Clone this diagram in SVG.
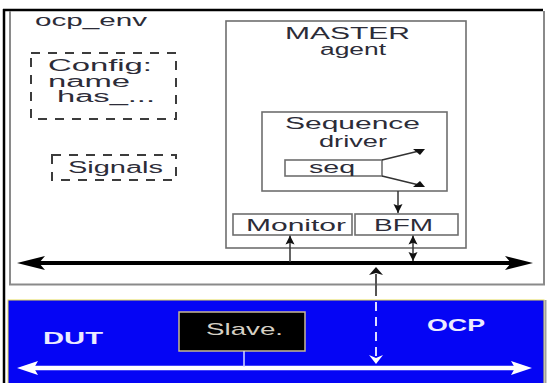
<svg xmlns="http://www.w3.org/2000/svg" width="557" height="383" viewBox="0 0 557 383">
  <defs>
    <style>
      .t { font-family: "Liberation Sans", Arial, sans-serif; font-size: 16px; fill: #2c2c38; }
      .w { font-family: "Liberation Sans", Arial, sans-serif; font-size: 17px; fill: #ecebff; font-weight: bold; }
      .box { fill: #ffffff; stroke: #6e6e6e; stroke-width: 1.6; }
      .dash { fill: none; stroke: #3c3c3c; stroke-width: 2; stroke-dasharray: 9 8; }
      .thin { stroke: #333; stroke-width: 1.5; fill: none; }
    </style>
    <marker id="ah" viewBox="0 0 10 10" refX="10" refY="5" markerWidth="9" markerHeight="10" markerUnits="userSpaceOnUse" orient="auto-start-reverse">
      <path d="M0,0 L10,5 L0,10 L2,5 z" fill="#111"/>
    </marker>
  </defs>

  <rect x="0" y="0" width="557" height="383" fill="#ffffff"/>

  <!-- page frame -->
  <g id="frame">
    <line x1="4" y1="9" x2="4" y2="383" stroke="#000" stroke-width="2.5"/>
    <line x1="3" y1="10" x2="543" y2="10" stroke="#000" stroke-width="2.5"/>
  </g>

  <!-- ocp_env container -->
  <g id="ocp_env">
    <path d="M10,11 V284.5 H544 V11" fill="none" stroke="#8a8a8a" stroke-width="2"/>
    <text class="t" x="35" y="26" textLength="112" lengthAdjust="spacingAndGlyphs">ocp_env</text>
  </g>

  <g id="config">
    <rect class="dash" x="31" y="53" width="145" height="66"/>
    <text class="t" x="48" y="71" textLength="104" lengthAdjust="spacingAndGlyphs">Config:</text>
    <text class="t" x="48" y="87" textLength="82" lengthAdjust="spacingAndGlyphs">name</text>
    <text class="t" x="57" y="102" textLength="98" lengthAdjust="spacingAndGlyphs">has_...</text>
  </g>

  <g id="signals">
    <rect class="dash" x="52" y="155" width="124" height="25"/>
    <text class="t" x="68" y="173" textLength="95" lengthAdjust="spacingAndGlyphs">Signals</text>
  </g>

  <g id="master_agent">
    <rect class="box" x="226" y="21" width="240" height="227"/>
    <text class="t" x="285" y="39" textLength="125" lengthAdjust="spacingAndGlyphs">MASTER</text>
    <text class="t" x="320" y="55" textLength="66" lengthAdjust="spacingAndGlyphs">agent</text>
  </g>

  <g id="sequence_driver">
    <rect class="box" x="262" y="112" width="185" height="79"/>
    <text class="t" x="285" y="129" textLength="135" lengthAdjust="spacingAndGlyphs">Sequence</text>
    <text class="t" x="319" y="147" textLength="68" lengthAdjust="spacingAndGlyphs">driver</text>
  </g>

  <g id="seq">
    <rect class="box" x="285" y="160" width="97" height="16"/>
    <text class="t" x="309" y="173" textLength="46" lengthAdjust="spacingAndGlyphs">seq</text>
  </g>

  <g id="monitor">
    <rect class="box" x="233" y="214" width="119" height="21"/>
    <text class="t" x="246" y="231" textLength="100" lengthAdjust="spacingAndGlyphs">Monitor</text>
  </g>

  <g id="bfm">
    <rect class="box" x="355" y="214" width="103" height="21"/>
    <text class="t" x="374" y="231" textLength="59" lengthAdjust="spacingAndGlyphs">BFM</text>
  </g>

  <!-- DUT area -->
  <g id="dut">
    <rect x="8" y="300" width="536" height="85" fill="#0505f5" stroke="#e6dc5a" stroke-width="1"/>
    <line x1="545.5" y1="300" x2="545.5" y2="383" stroke="#a0a0a0" stroke-width="2"/>
    <text class="w" x="43" y="344" textLength="60" lengthAdjust="spacingAndGlyphs">DUT</text>
    <text class="w" x="427" y="331" textLength="58" lengthAdjust="spacingAndGlyphs">OCP</text>
  </g>

  <g id="slave">
    <rect x="179" y="312" width="126" height="39" fill="#000" stroke="#c8b894" stroke-width="1.5"/>
    <text x="206" y="335" textLength="77" lengthAdjust="spacingAndGlyphs" style="font-family:'Liberation Sans',Arial,sans-serif;font-size:17px;fill:#d6d0c4">Slave.</text>
  </g>

  <!-- connectors -->
  <g id="connectors">
    <!-- black bus -->
    <line x1="36" y1="263" x2="514" y2="263" stroke="#000" stroke-width="4"/>
    <polygon points="17,263 45,256 39,263 45,270" fill="#000"/>
    <polygon points="533,263 505,256 511,263 505,270" fill="#000"/>

    <!-- white bus -->
    <line x1="30" y1="368" x2="520" y2="368" stroke="#ffffff" stroke-width="4.5"/>
    <polygon points="17,368 38,361 34,368 38,375" fill="#ffffff"/>
    <polygon points="532,368 511,361 515,368 511,375" fill="#ffffff"/>

    <!-- seq branches -->
    <line class="thin" x1="382" y1="160" x2="419" y2="151"/>
    <polygon points="413,149 425,149 420,155" fill="#111"/>
    <line class="thin" x1="382" y1="176" x2="419" y2="185"/>
    <polygon points="413,187 425,187 420,181" fill="#111"/>

    <!-- driver to BFM -->
    <line class="thin" x1="398" y1="191" x2="398" y2="213" marker-end="url(#ah)"/>

    <!-- bus to monitor -->
    <line class="thin" x1="290" y1="262" x2="290" y2="235.5" marker-end="url(#ah)"/>

    <!-- BFM <-> bus -->
    <line class="thin" x1="413" y1="235.5" x2="413" y2="261" marker-start="url(#ah)" marker-end="url(#ah)"/>

    <!-- DUT to bus (dashed) -->
    <line x1="376" y1="274" x2="376" y2="296" stroke="#555" stroke-width="2"/>
    <polygon points="376,267 383,275 376,273 369,275" fill="#111"/>
    <line x1="376" y1="302" x2="376" y2="357" stroke="#dcdcff" stroke-width="2" stroke-dasharray="9 6"/>
    <polygon points="376,364 383,355 376,358 369,355" fill="#ffffff"/>

    <!-- slave to white bus -->
    <line x1="244" y1="351" x2="244" y2="367" stroke="#d8d8ff" stroke-width="1.5"/>
  </g>
</svg>
